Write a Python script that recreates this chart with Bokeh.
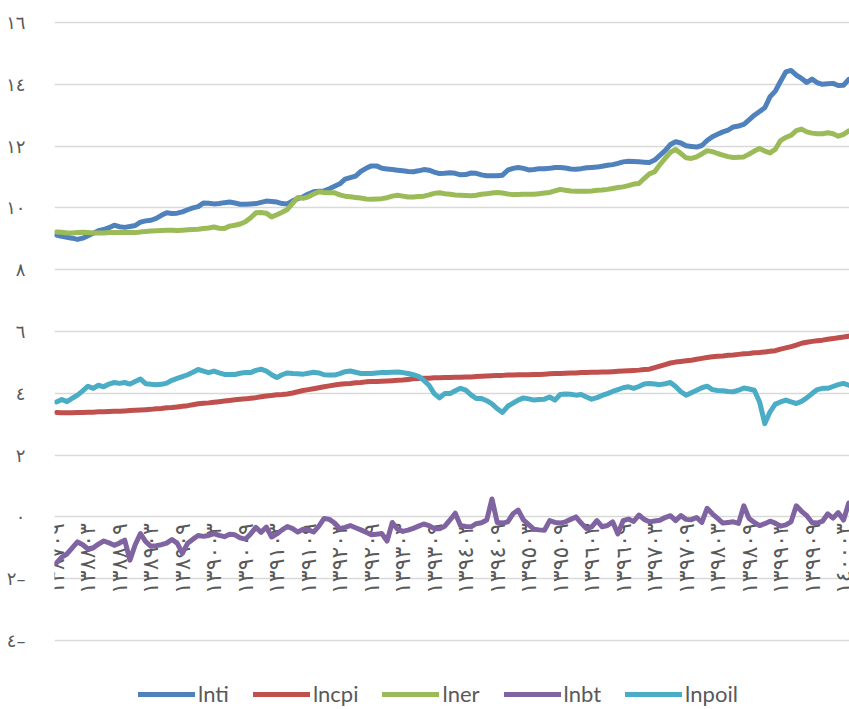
import math
from bokeh.plotting import figure
from bokeh.models import Range1d, Legend, LegendItem, FixedTicker, ColumnDataSource
from bokeh.core.properties import value
from bokeh.embed import file_html
from bokeh.resources import INLINE

# monthly observations, 1387/09 ... 1400/04
lnti = [9.12, 9.08, 9.05, 9.02, 8.98, 9.02, 9.10, 9.18, 9.26, 9.30,
        9.36, 9.44, 9.39, 9.37, 9.40, 9.43, 9.54, 9.58, 9.60, 9.66,
        9.76, 9.84, 9.82, 9.83, 9.87, 9.94, 10.00, 10.04, 10.16, 10.15,
        10.13, 10.14, 10.17, 10.19, 10.16, 10.12, 10.12, 10.13, 10.14, 10.18,
        10.22, 10.21, 10.19, 10.14, 10.13, 10.23, 10.30, 10.36, 10.45, 10.52,
        10.54, 10.55, 10.62, 10.70, 10.78, 10.93, 10.98, 11.03, 11.18, 11.28,
        11.36, 11.36, 11.28, 11.26, 11.24, 11.22, 11.20, 11.18, 11.17, 11.20,
        11.24, 11.22, 11.16, 11.11, 11.12, 11.14, 11.12, 11.07, 11.08, 11.13,
        11.12, 11.07, 11.04, 11.04, 11.04, 11.06, 11.22, 11.28, 11.31, 11.28,
        11.23, 11.24, 11.27, 11.27, 11.28, 11.31, 11.31, 11.29, 11.26, 11.25,
        11.27, 11.30, 11.31, 11.32, 11.35, 11.38, 11.40, 11.44, 11.49, 11.51,
        11.50, 11.49, 11.48, 11.47, 11.55, 11.70, 11.85, 12.05, 12.14, 12.10,
        12.01, 11.99, 11.97, 12.02, 12.18, 12.30, 12.38, 12.46, 12.52, 12.62,
        12.65, 12.70, 12.85, 13.00, 13.12, 13.24, 13.60, 13.78, 14.10, 14.40,
        14.45, 14.30, 14.19, 14.06, 14.17, 14.05, 14.00, 14.02, 14.03, 13.96,
        13.97, 14.16]

lncpi = [3.38, 3.37, 3.37, 3.37, 3.38, 3.38, 3.39, 3.39, 3.40, 3.40,
         3.41, 3.42, 3.42, 3.43, 3.44, 3.45, 3.46, 3.47, 3.48, 3.50,
         3.51, 3.53, 3.54, 3.56, 3.58, 3.60, 3.63, 3.66, 3.68, 3.69,
         3.71, 3.73, 3.75, 3.77, 3.79, 3.81, 3.82, 3.84, 3.86, 3.89,
         3.91, 3.93, 3.95, 3.96, 3.98, 4.01, 4.05, 4.09, 4.12, 4.15,
         4.18, 4.21, 4.24, 4.27, 4.29, 4.31, 4.32, 4.34, 4.35, 4.37,
         4.38, 4.38, 4.39, 4.40, 4.41, 4.42, 4.43, 4.45, 4.47, 4.48,
         4.49, 4.49, 4.50, 4.50, 4.51, 4.51, 4.52, 4.52, 4.53, 4.53,
         4.54, 4.55, 4.56, 4.57, 4.58, 4.58, 4.59, 4.59, 4.60, 4.60,
         4.60, 4.61, 4.61, 4.62, 4.63, 4.64, 4.64, 4.65, 4.66, 4.66,
         4.67, 4.67, 4.68, 4.68, 4.69, 4.69, 4.70, 4.71, 4.72, 4.73,
         4.74, 4.75, 4.77, 4.78, 4.83, 4.88, 4.93, 4.98, 5.01, 5.03,
         5.05, 5.07, 5.10, 5.13, 5.16, 5.18, 5.20, 5.21, 5.23, 5.24,
         5.26, 5.28, 5.29, 5.31, 5.32, 5.34, 5.36, 5.38, 5.43, 5.47,
         5.51, 5.56, 5.62, 5.65, 5.68, 5.70, 5.72, 5.75, 5.77, 5.80,
         5.82, 5.85]

lner = [9.22, 9.21, 9.19, 9.19, 9.20, 9.21, 9.20, 9.19, 9.19, 9.19,
        9.20, 9.20, 9.20, 9.20, 9.20, 9.20, 9.22, 9.24, 9.25, 9.26,
        9.27, 9.28, 9.28, 9.27, 9.28, 9.29, 9.30, 9.31, 9.33, 9.35,
        9.38, 9.34, 9.33, 9.41, 9.44, 9.48, 9.55, 9.68, 9.84, 9.85,
        9.83, 9.71, 9.78, 9.86, 9.95, 10.15, 10.34, 10.31, 10.36, 10.45,
        10.52, 10.50, 10.49, 10.49, 10.42, 10.38, 10.36, 10.34, 10.32, 10.29,
        10.28, 10.29, 10.30, 10.33, 10.38, 10.41, 10.38, 10.35, 10.35, 10.37,
        10.38, 10.42, 10.47, 10.49, 10.46, 10.44, 10.42, 10.41, 10.40, 10.39,
        10.41, 10.44, 10.46, 10.48, 10.50, 10.48, 10.45, 10.43, 10.43, 10.44,
        10.44, 10.44, 10.46, 10.48, 10.50, 10.55, 10.60, 10.57, 10.55, 10.54,
        10.54, 10.54, 10.55, 10.57, 10.58, 10.60, 10.63, 10.66, 10.68, 10.72,
        10.77, 10.79, 10.95, 11.10, 11.17, 11.40, 11.60, 11.80, 11.89, 11.76,
        11.62, 11.60, 11.65, 11.75, 11.85, 11.82, 11.76, 11.71, 11.66, 11.63,
        11.64, 11.65, 11.74, 11.84, 11.92, 11.84, 11.78, 11.90, 12.18, 12.28,
        12.35, 12.50, 12.55, 12.46, 12.42, 12.40, 12.40, 12.43, 12.40, 12.32,
        12.38, 12.49]

lnbt = [-1.49, -1.30, -1.20, -1.00, -0.81, -0.90, -1.04, -1.00, -0.88, -0.78,
        -0.84, -0.92, -0.85, -0.75, -1.40, -0.90, -0.54, -0.80, -0.95, -0.93,
        -0.90, -0.85, -0.73, -0.85, -1.18, -0.85, -0.72, -0.60, -0.63, -0.60,
        -0.54, -0.60, -0.64, -0.56, -0.58, -0.68, -0.72, -0.55, -0.34, -0.50,
        -0.33, -0.65, -0.55, -0.42, -0.31, -0.38, -0.49, -0.40, -0.42, -0.49,
        -0.30, -0.05, -0.08, -0.20, -0.38, -0.34, -0.28, -0.35, -0.42, -0.50,
        -0.58, -0.56, -0.54, -0.78, -0.18, -0.40, -0.47, -0.43, -0.37, -0.30,
        -0.23, -0.28, -0.38, -0.38, -0.30, -0.10, 0.12, -0.28, -0.31, -0.32,
        -0.22, -0.19, -0.10, 0.58, -0.18, -0.20, -0.16, 0.10, 0.22, -0.10,
        -0.25, -0.40, -0.42, -0.43, -0.12, -0.18, -0.20, -0.16, -0.08, 0.00,
        -0.20, -0.38, -0.32, -0.12, -0.32, -0.28, -0.16, -0.55, -0.12, -0.07,
        -0.15, 0.06, -0.08, -0.16, -0.13, -0.11, -0.02, 0.04, -0.12, 0.04,
        -0.08, -0.09, -0.02, -0.18, 0.28, 0.10, -0.05, -0.20, -0.18, -0.16,
        -0.21, 0.36, -0.05, -0.18, -0.28, -0.22, -0.14, -0.20, -0.30, -0.26,
        -0.16, 0.36, 0.18, 0.04, -0.18, -0.20, -0.14, 0.10, -0.04, 0.14,
        -0.10, 0.45]

lnpoil = [3.72, 3.80, 3.73, 3.84, 3.94, 4.08, 4.23, 4.16, 4.26, 4.21,
          4.30, 4.35, 4.32, 4.35, 4.30, 4.38, 4.46, 4.31, 4.29, 4.28,
          4.29, 4.33, 4.42, 4.48, 4.54, 4.60, 4.68, 4.77, 4.72, 4.67,
          4.72, 4.66, 4.61, 4.61, 4.61, 4.65, 4.67, 4.67, 4.74, 4.78,
          4.72, 4.60, 4.51, 4.60, 4.66, 4.64, 4.63, 4.62, 4.65, 4.68,
          4.66, 4.60, 4.59, 4.59, 4.64, 4.70, 4.72, 4.68, 4.64, 4.64,
          4.64, 4.66, 4.67, 4.67, 4.68, 4.69, 4.67, 4.64, 4.60, 4.55,
          4.42, 4.26, 3.99, 3.85, 3.99, 3.99, 4.08, 4.16, 4.10, 3.95,
          3.83, 3.83, 3.76, 3.66, 3.50, 3.38, 3.58, 3.68, 3.78, 3.85,
          3.82, 3.78, 3.80, 3.81, 3.88, 3.78, 3.96, 3.98, 3.97, 3.94,
          3.96, 3.88, 3.81, 3.86, 3.93, 3.99, 4.06, 4.12, 4.18, 4.21,
          4.16, 4.22, 4.30, 4.32, 4.30, 4.28, 4.31, 4.35, 4.22, 4.05,
          3.94, 4.02, 4.10, 4.18, 4.23, 4.12, 4.09, 4.08, 4.06, 4.05,
          4.10, 4.17, 4.14, 4.10, 3.72, 3.02, 3.40, 3.65, 3.72, 3.78,
          3.72, 3.67, 3.74, 3.85, 3.99, 4.12, 4.16, 4.16, 4.22, 4.28,
          4.32, 4.26]

x_tick_labels = ["١٣٨٧٠٩", "١٣٨٨٠٣", "١٣٨٨٠٩", "١٣٨٩٠٣", "١٣٨٩٠٩",
                 "١٣٩٠٠٣", "١٣٩٠٠٩", "١٣٩١٠٣", "١٣٩١٠٩", "١٣٩٢٠٣",
                 "١٣٩٢٠٩", "١٣٩٣٠٣", "١٣٩٣٠٩", "١٣٩٤٠٣", "١٣٩٤٠٩",
                 "١٣٩٥٠٣", "١٣٩٥٠٩", "١٣٩٦٠٣", "١٣٩٦٠٩", "١٣٩٧٠٣",
                 "١٣٩٧٠٩", "١٣٩٨٠٣", "١٣٩٨٠٩", "١٣٩٩٠٣", "١٣٩٩٠٩",
                 "١٤٠٠٠٣"]
x_tick_step = 6

y_ticks = [-4, -2, 0, 2, 4, 6, 8, 10, 12, 14, 16]
y_tick_labels = ["٤–", "٢–", "٠", "٢", "٤", "٦", "٨", "١٠", "١٢", "١٤", "١٦"]

series_names = ["lnti", "lncpi", "lner", "lnbt", "lnpoil"]
series_colors = ["#4F81BD", "#C0504D", "#9BBB59", "#8064A2", "#4BACC6"]

months = list(range(len(lnti)))
src = ColumnDataSource(dict(x=months, lnti=lnti, lncpi=lncpi, lner=lner,
                            lnbt=lnbt, lnpoil=lnpoil))

PX = 30.9  # pixels per unit on the value axis
p = figure(width=849, height=709, output_backend="svg", toolbar_location=None,
           x_range=Range1d(-0.381, 151.14),
           y_range=Range1d(-4 - 69 / PX, 16 + 2 / PX),
           x_axis_location=None,
           min_border_left=54, min_border_right=0, min_border_top=20,
           min_border_bottom=0)
p.outline_line_color = None
p.background_fill_color = "white"
p.border_fill_color = "white"
for g in p.xgrid:
    g.visible = False

yax = p.yaxis[0]
yax.ticker = FixedTicker(ticks=y_ticks)
yax.major_label_overrides = {t: l for t, l in zip(y_ticks, y_tick_labels)}
yax.axis_line_color = None
yax.major_tick_line_color = None
yax.minor_tick_line_color = None
yax.major_label_standoff = 23
yax.major_label_text_font = "DejaVu Sans"
yax.major_label_text_font_size = "18px"
yax.major_label_text_color = "#595959"

p.ygrid.ticker = FixedTicker(ticks=y_ticks)
p.ygrid.grid_line_color = "#D9D9D9"
p.ygrid.grid_line_width = 1.3

# category labels, rotated, hanging below the zero line
lab_src = ColumnDataSource(dict(
    x=[i * x_tick_step for i in range(len(x_tick_labels))],
    y=[-0.2] * len(x_tick_labels),
    t=x_tick_labels))
p.text(x="x", y="y", text="t", source=lab_src, angle=math.pi / 2,
       text_align="right", text_baseline="middle",
       text_font=value("DejaVu Sans"), text_font_size="22px",
       text_color="#595959")

items = []
for name, col in zip(series_names, series_colors):
    r = p.line(x="x", y=name, source=src, line_color=col, line_width=5,
               line_join="round", line_cap="round")
    items.append(LegendItem(label=name, renderers=[r]))

legend = Legend(items=items, orientation="horizontal", location=(84, 2),
                glyph_width=57, glyph_height=20, spacing=24, label_standoff=3,
                label_text_font="Lato",
                label_text_font_size="22px", label_text_color="#595959",
                border_line_color=None, background_fill_alpha=0,
                padding=0, margin=0)
p.add_layout(legend, "center")

open("out.html", "w").write(file_html(p, INLINE))
